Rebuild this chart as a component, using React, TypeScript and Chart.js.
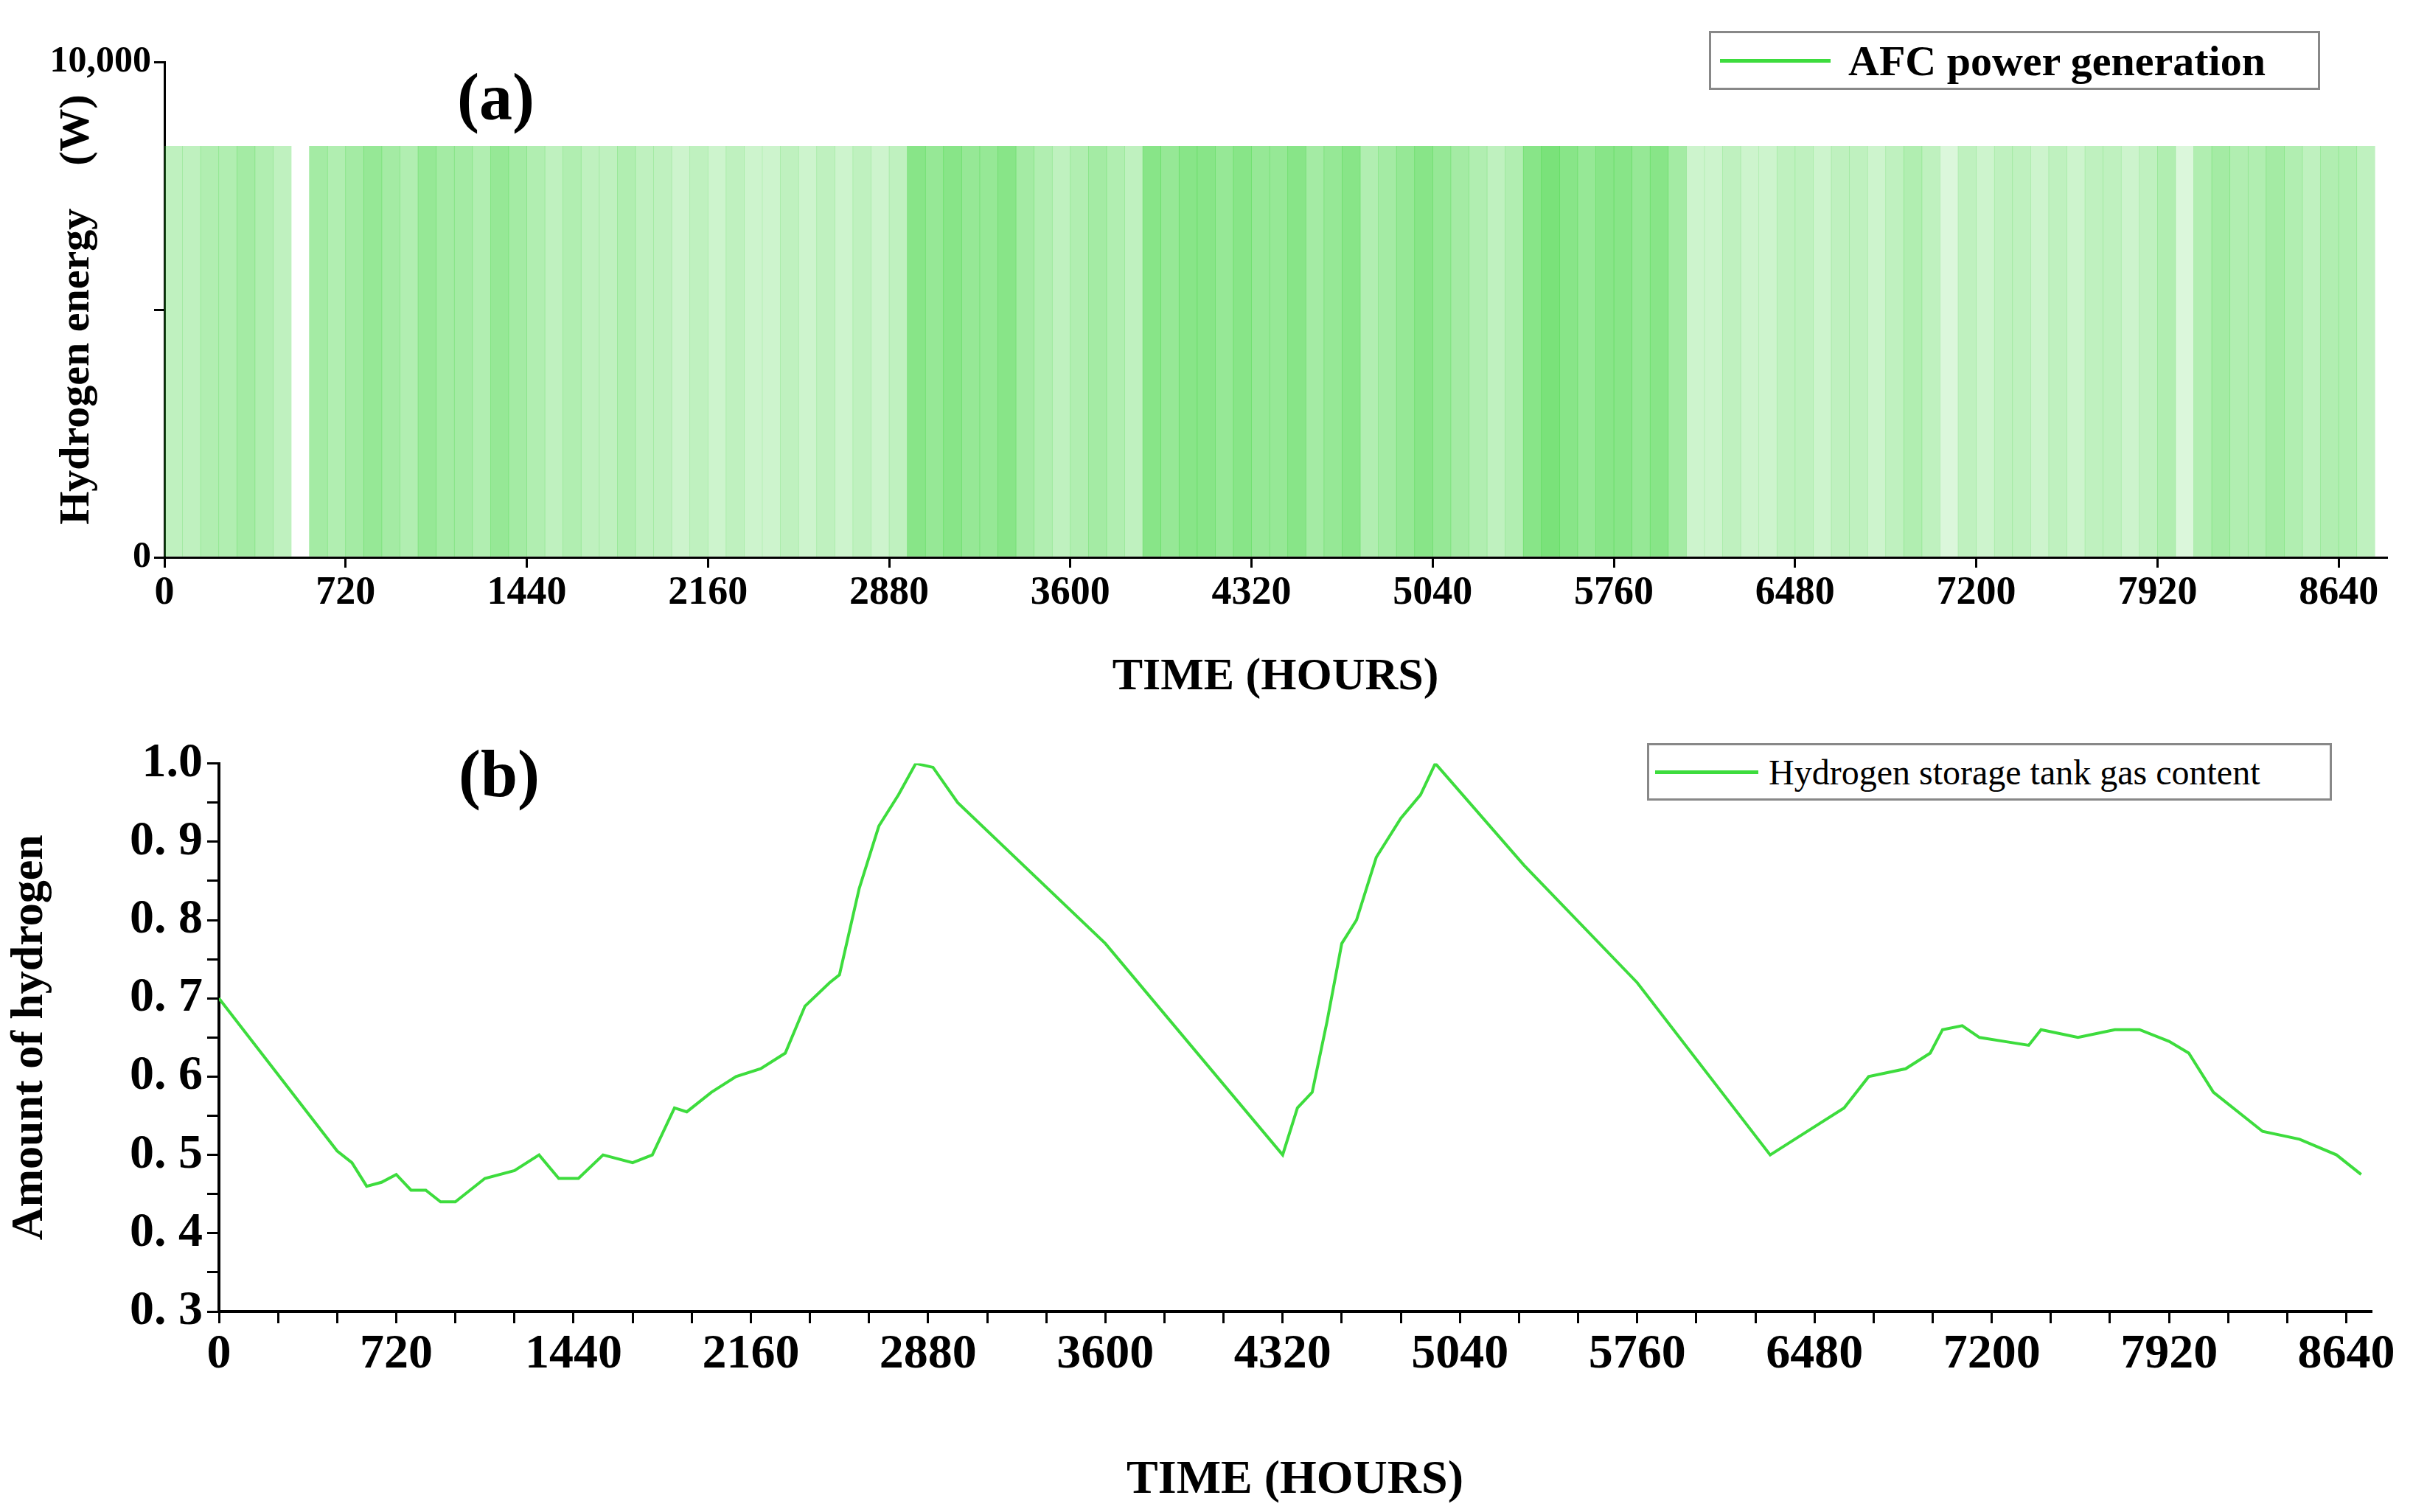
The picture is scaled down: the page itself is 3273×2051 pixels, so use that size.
import { useEffect, useRef } from "react"
import { Chart, registerables } from "chart.js"

Chart.register(...registerables)

// (a) AFC power generation: 72-hour blocks, stripe density 0..8
const blockHours = 72
const afcDensity = [
  3, 3, 4, 4, 5, 4, 3, 0, 5, 4, 5, 6, 5, 4, 6, 5, 5, 4, 6, 5, 4,
  3, 4, 3, 3, 4, 3, 3, 2, 3, 2, 3, 2, 2, 3, 2, 3, 2, 3, 2, 3,
  7, 6, 7, 6, 6, 7, 5, 4, 3, 4, 5, 4, 3, 7, 6, 7, 7, 6, 7, 6, 6, 7, 5, 6, 7,
  4, 5, 6, 7, 6, 5, 4, 3, 4, 7, 8, 7, 6, 7, 7, 6, 7, 5, 2, 2, 3, 2, 2, 3,
  3, 2, 3, 3, 2, 3, 4, 3, 1, 3, 2, 3, 3, 2, 3, 2, 3, 3, 2, 3, 4, 1,
  4, 5, 4, 4, 5, 4, 3, 4, 4, 3,
]
const afcPower = 8300

// (b) hydrogen storage tank gas content
const storageHours = [
  0, 480, 540, 600, 660, 720, 780, 840, 900, 960, 1080, 1200, 1300, 1380, 1460, 1560, 1680, 1760,
  1850, 1900, 2000, 2100, 2200, 2300, 2380, 2480, 2520, 2600, 2680, 2760, 2830, 2900, 3000,
  3600, 4320, 4380, 4440, 4500, 4560, 4620, 4700, 4800, 4880, 4940, 5300, 5760, 6300,
  6400, 6600, 6700, 6850, 6950, 7000, 7080, 7150, 7250, 7350, 7400, 7550, 7700, 7800, 7920,
  8000, 8100, 8300, 8450, 8600, 8700,
]
const storageLevel = [
  0.7, 0.505, 0.49, 0.46, 0.465, 0.475, 0.455, 0.455, 0.44, 0.44, 0.47, 0.48, 0.5, 0.47, 0.47, 0.5, 0.49, 0.5,
  0.56, 0.555, 0.58, 0.6, 0.61, 0.63, 0.69, 0.72, 0.73, 0.84, 0.92, 0.96, 1.0, 0.995, 0.95,
  0.77, 0.5, 0.56, 0.58, 0.67, 0.77, 0.8, 0.88, 0.93, 0.96, 1.0, 0.87, 0.72, 0.5,
  0.52, 0.56, 0.6, 0.61, 0.63, 0.66, 0.665, 0.65, 0.645, 0.64, 0.66, 0.65, 0.66, 0.66, 0.645,
  0.63, 0.58, 0.53, 0.52, 0.5, 0.475,
]

const green = "#3ddc3d"
const serif = "'Liberation Serif', 'DejaVu Serif', serif"

function fixWidth(w: number) {
  return (s: any) => { s.width = w }
}
function fixHeight(h: number) {
  return (s: any) => { s.height = h }
}

function PanelA() {
  const ref = useRef<HTMLCanvasElement | null>(null)
  useEffect(() => {
    if (!ref.current) return
    const chart = new Chart(ref.current, {
      type: "bar",
      data: {
        datasets: [{
          data: afcDensity.map((_, i) => ({ x: i * blockHours + blockHours / 2, y: afcPower })),
          backgroundColor: afcDensity.map((d) =>
            d === 0 ? "rgba(255,255,255,0)" : `rgba(70,215,70,${0.12 + d * 0.075})`),
          barPercentage: 1,
          categoryPercentage: 1,
        }],
      },
      options: {
        animation: false,
        responsive: false,
        layout: { padding: { top: 84, right: 36, left: 0, bottom: 0 } },
        plugins: { legend: { display: false }, tooltip: { enabled: false } },
        scales: {
          x: {
            type: "linear", min: 0, max: 8830, offset: false,
            afterBuildTicks: (s: any) => { s.ticks = [0, 720, 1440, 2160, 2880, 3600, 4320, 5040, 5760, 6480, 7200, 7920, 8640].map((v) => ({ value: v })) },
            afterFit: fixHeight(204),
            border: { color: "#000", width: 3 },
            grid: { display: true, offset: false, drawOnChartArea: false, color: "#000", lineWidth: 3, tickLength: 14 },
            ticks: { color: "#000", font: { family: serif, size: 54, weight: "bold" }, maxRotation: 0, callback: (v: any) => String(v) },
            title: { display: true, text: "TIME (HOURS)", color: "#000", font: { family: serif, size: 62, weight: "bold" }, padding: { top: 4 } },
          },
          y: {
            min: 0, max: 10000,
            afterBuildTicks: (s: any) => { s.ticks = [0, 5000, 10000].map((v) => ({ value: v })) },
            afterFit: fixWidth(223),
            border: { color: "#000", width: 3 },
            grid: { display: true, drawOnChartArea: false, color: "#000", lineWidth: 3, tickLength: 14 },
            ticks: {
              color: "#000", font: { family: serif, size: 50, weight: "bold" }, padding: 4,
              callback: (v: any) => (v === 5000 ? "" : Number(v).toLocaleString("en-US")),
            },
            title: { display: true, text: "Hydrogen energy    (W)", color: "#000", font: { family: serif, size: 58, weight: "bold" }, padding: { top: 70, bottom: -40 } },
          },
        },
      },
    } as any)
    return () => chart.destroy()
  }, [])
  return <canvas ref={ref} width={3273} height={960} style={{ width: 3273, height: 960 }} />
}

function PanelB() {
  const ref = useRef<HTMLCanvasElement | null>(null)
  useEffect(() => {
    if (!ref.current) return
    const chart = new Chart(ref.current, {
      type: "line",
      data: {
        datasets: [{
          data: storageHours.map((h, i) => ({ x: h, y: storageLevel[i] })),
          borderColor: green, borderWidth: 4, pointRadius: 0, tension: 0,
        }],
      },
      options: {
        animation: false,
        responsive: false,
        layout: { padding: { top: 33, right: 57, left: 0, bottom: 0 } },
        plugins: { legend: { display: false }, tooltip: { enabled: false } },
        scales: {
          x: {
            type: "linear", min: 0, max: 8740,
            afterBuildTicks: (s: any) => {
              const t = []
              for (let v = 0; v <= 8740; v += 240) t.push({ value: v })
              s.ticks = t
            },
            afterFit: fixHeight(272),
            border: { color: "#000", width: 4 },
            grid: { display: true, drawOnChartArea: false, color: "#000", lineWidth: 3, tickLength: 16 },
            ticks: {
              color: "#000", font: { family: serif, size: 66, weight: "bold" }, maxRotation: 0, autoSkip: false,
              callback: (v: any) => (v % 720 === 0 ? String(v) : ""),
            },
            title: { display: true, text: "TIME (HOURS)", color: "#000", font: { family: serif, size: 64, weight: "bold" }, padding: { top: 4 } },
          },
          y: {
            min: 0.3, max: 1.0,
            afterBuildTicks: (s: any) => {
              const t = []
              for (let i = 0; i <= 14; i++) t.push({ value: 0.3 + i * 0.05 })
              s.ticks = t
            },
            afterFit: fixWidth(297),
            border: { color: "#000", width: 4 },
            grid: { display: true, drawOnChartArea: false, color: "#000", lineWidth: 3, tickLength: 16 },
            ticks: {
              color: "#000", font: { family: serif, size: 66, weight: "bold" }, padding: 6, autoSkip: false,
              callback: (v: any) => {
                const k = Math.round(Number(v) * 100)
                return k % 10 === 0 ? (k === 100 ? "1.0" : "0. " + k / 10) : ""
              },
            },
            title: { display: true, text: "Amount of hydrogen", color: "#000", font: { family: serif, size: 62, weight: "bold" }, padding: { bottom: 0 } },
          },
        },
      },
    } as any)
    return () => chart.destroy()
  }, [])
  return <canvas ref={ref} width={3273} height={1061} style={{ width: 3273, height: 1061 }} />
}

const legendBox = (top: number, left: number, width: number, height: number): React.CSSProperties => ({
  position: "absolute", top, left, width, height, border: "3px solid #888", background: "#fff",
  display: "flex", alignItems: "center", boxSizing: "border-box", fontFamily: serif, color: "#000",
})

export default function App() {
  return (
    <div style={{ position: "fixed", left: 0, top: 0, width: 3273, height: 2051, background: "#fff" }}>
      <div style={{ position: "absolute", left: 0, top: 0 }}><PanelA /></div>
      <div style={{ position: "absolute", left: 0, top: 990 }}><PanelB /></div>
      <div style={{ position: "absolute", left: 620, top: 80, fontFamily: serif, fontWeight: "bold", fontSize: 90 }}>(a)</div>
      <div style={{ position: "absolute", left: 622, top: 998, fontFamily: serif, fontWeight: "bold", fontSize: 90 }}>(b)</div>
      <div style={legendBox(42, 2318, 829, 80)}>
        <span style={{ width: 150, height: 5, background: green, marginLeft: 12, marginRight: 24 }} />
        <span style={{ fontSize: 58, fontWeight: "bold" }}>AFC power generation</span>
      </div>
      <div style={legendBox(1008, 2234, 929, 78)}>
        <span style={{ width: 140, height: 5, background: green, marginLeft: 8, marginRight: 14 }} />
        <span style={{ fontSize: 48 }}>Hydrogen storage tank gas content</span>
      </div>
    </div>
  )
}
